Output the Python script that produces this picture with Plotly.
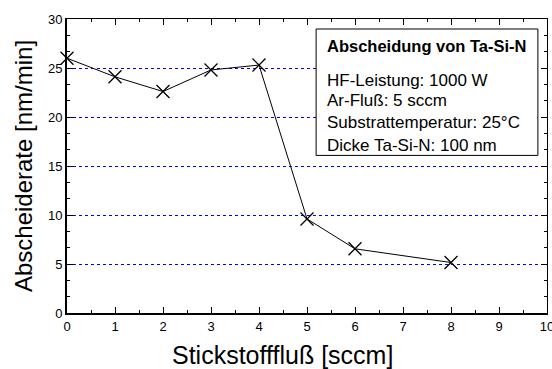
import plotly.graph_objects as go

flow = [0, 1, 2, 3, 4, 5, 6, 8]
rate = [26.0, 24.1, 22.6, 24.8, 25.3, 9.6, 6.55, 5.15]

x_title = "Stickstofffluß [sccm]"
y_title = "Abscheiderate [nm/min]"
box_title = "Abscheidung von Ta-Si-N"
box_lines = ["HF-Leistung: 1000 W", "Ar-Fluß: 5 sccm",
             "Substrattemperatur: 25°C", "Dicke Ta-Si-N: 100 nm"]

FONT = "Liberation Sans, Arial, sans-serif"

fig = go.Figure()
fig.add_trace(go.Scatter(
    x=flow, y=rate, mode="lines+markers",
    line=dict(color="black", width=1),
    marker=dict(symbol="x-thin", size=13, line=dict(color="black", width=1.3)),
    showlegend=False, cliponaxis=False))

# invisible trace to activate mirror axes
fig.add_trace(go.Scatter(x=[0], y=[0], xaxis="x2", yaxis="y2", mode="markers",
                         marker=dict(opacity=0), showlegend=False, hoverinfo="skip"))

fig.update_layout(
    width=552, height=369,
    margin=dict(l=67, r=5, t=19, b=56, autoexpand=False),
    paper_bgcolor="white", plot_bgcolor="white",
    font=dict(family=FONT, color="black", size=13),
    xaxis=dict(range=[0, 10], dtick=1, tick0=0, showgrid=False, zeroline=False,
               showline=True, linecolor="black", linewidth=2, automargin=False,
               ticks="inside", ticklen=6, tickwidth=1, tickcolor="black",
               minor=dict(dtick=0.5, ticks="inside", ticklen=3, tickcolor="black", showgrid=False),
               tickfont=dict(size=13), ticklabeloverflow="allow"),
    yaxis=dict(range=[0, 30], dtick=5, tick0=0, showgrid=True, gridcolor="blue",
               griddash="dot", gridwidth=1, zeroline=False, automargin=False,
               showline=True, linecolor="black", linewidth=2,
               ticks="inside", ticklen=6, tickwidth=1, tickcolor="black",
               minor=dict(dtick=5/3, ticks="inside", ticklen=3, tickcolor="black", showgrid=False),
               tickfont=dict(size=13),
               title=dict(text=y_title, font=dict(size=24), standoff=9)),
    xaxis2=dict(range=[0, 10], overlaying="x", side="top", dtick=1, showgrid=False,
                zeroline=False, showline=True, linecolor="black", linewidth=1,
                automargin=False,
                ticks="inside", ticklen=6, tickcolor="black", showticklabels=False,
                minor=dict(dtick=0.5, ticks="inside", ticklen=3, tickcolor="black")),
    yaxis2=dict(range=[0, 30], overlaying="y", side="right", dtick=5, showgrid=False,
                zeroline=False, showline=True, linecolor="black", linewidth=1,
                automargin=False,
                ticks="inside", ticklen=6, tickcolor="black", showticklabels=False,
                minor=dict(dtick=5/3, ticks="inside", ticklen=3, tickcolor="black")),
)

# x-axis title centred on the page (as in the reference)
fig.add_annotation(xref="paper", yref="paper", x=(282 - 67) / 480, y=(313 - 355) / 293,
                   text=x_title, showarrow=False, xanchor="center", yanchor="middle",
                   font=dict(size=25))

# legend-like box
x0, x1 = 0.519, 0.981
y0, y1 = 0.536, 0.966
fig.add_shape(type="rect", xref="paper", yref="paper", x0=x0, x1=x1, y0=y0, y1=y1,
              line=dict(color="black", width=1), fillcolor="white", layer="above")
tx = 0.5375
fig.add_annotation(xref="paper", yref="paper", x=tx, y=(313 - 46.5) / 293,
                   text="<b>" + box_title + "</b>", showarrow=False,
                   xanchor="left", yanchor="middle", font=dict(size=16.5))
ys = [81, 101, 123, 146]
for t, yp in zip(box_lines, ys):
    fig.add_annotation(xref="paper", yref="paper", x=tx, y=(313 - yp) / 293,
                       text=t, showarrow=False, xanchor="left", yanchor="middle",
                       font=dict(size=17))

fig.write_html("out.html")
